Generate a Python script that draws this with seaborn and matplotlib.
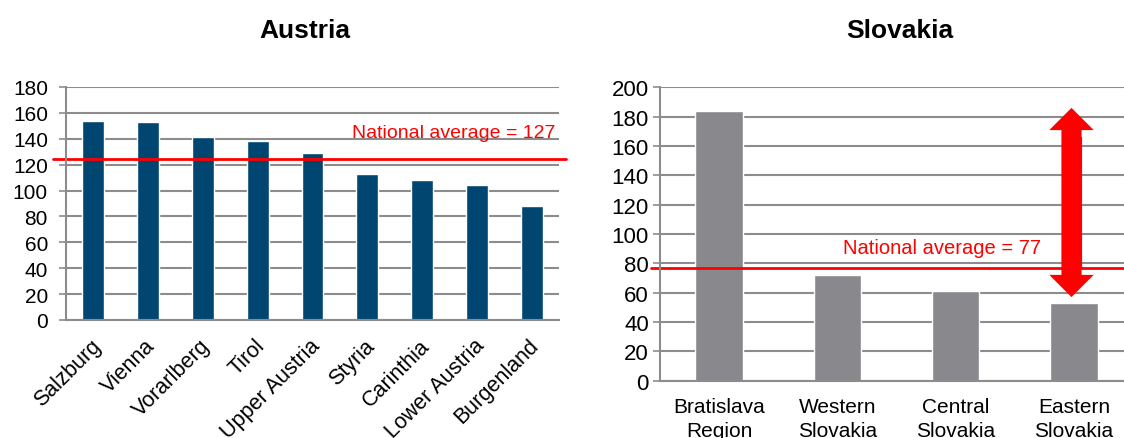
import matplotlib
matplotlib.use("Agg")
import matplotlib.pyplot as plt
import matplotlib.transforms as mtransforms
import seaborn as sns
import pandas as pd

# donnees
regions_at = ["Salzburg", "Vienna", "Vorarlberg", "Tirol", "Upper Austria",
              "Styria", "Carinthia", "Lower Austria", "Burgenland"]
valeurs_at = [154, 153, 141, 138, 129, 113, 108, 104, 88]
moyenne_at = 124
texte_at = "National average = 127"

regions_sk = ["Bratislava\nRegion", "Western\nSlovakia", "Central\nSlovakia", "Eastern\nSlovakia"]
valeurs_sk = [184, 72, 61, 53]
moyenne_sk = 77
texte_sk = "National average = 77"
fleche_sk = (186, 57)

sns.set_style("white")
plt.rcParams['font.family'] = ['Liberation Sans', 'DejaVu Sans']
plt.rcParams['text.color'] = 'black'

grille = "#8c8c8c"

fig = plt.figure(figsize=(11.24, 4.39), dpi=100)
ax1 = fig.add_axes([0.0587, 0.2688, 0.4386, 0.5308])
ax2 = fig.add_axes([0.5872, 0.1305, 0.4208, 0.6683])


def style_axe(ax, n, ymax, taille, ecart):
    ax.set_xlim(-0.5, n - 0.5)
    ax.set_ylim(0, ymax)
    ax.set_yticks(range(0, ymax + 1, 20))
    ax.yaxis.grid(True, color=grille, linewidth=1.5)
    ax.xaxis.grid(False)
    ax.set_axisbelow(True)
    for s in ["top", "right"]:
        ax.spines[s].set_visible(False)
    for s in ["left", "bottom"]:
        ax.spines[s].set_color(grille)
        ax.spines[s].set_linewidth(1.5)
    ax.set_xticks([i - 0.5 for i in range(n + 1)], minor=True)
    ax.tick_params(axis="x", which="minor", length=6, width=1.2, color=grille, direction="out")
    ax.tick_params(axis="x", which="major", length=0, labelsize=15, labelcolor="black")
    ax.tick_params(axis="y", length=5, width=1.2, color=grille, left=True,
                   labelsize=taille, labelcolor="black", pad=ecart)
    ax.set_xlabel("")
    ax.set_ylabel("")


# Autriche
df_at = pd.DataFrame({"region": regions_at, "valeur": valeurs_at})
sns.barplot(data=df_at, x="region", y="valeur", color="#004671", width=0.4,
            saturation=1, ax=ax1)
style_axe(ax1, len(regions_at), 180, 15, 8)
ax1.set_xticks(range(len(regions_at)))
ax1.set_xticklabels(regions_at, rotation=45, ha="right", va="center",
                    rotation_mode="anchor", fontsize=15.5)
ax1.tick_params(axis="x", which="major", pad=16)
decalage = mtransforms.ScaledTranslation(3 / 72, 0, fig.dpi_scale_trans)
for lab in ax1.get_xticklabels():
    lab.set_transform(lab.get_transform() + decalage)
ax1.plot([-0.74, 8.63], [moyenne_at, moyenne_at], color="red", lw=2, clip_on=False)
ax1.text(8.44, 141, texte_at, color="red", fontsize=14, ha="right", va="baseline")
ax1.set_title("Austria", fontsize=19, fontweight="bold", pad=36, x=0.485)

# Slovaquie
df_sk = pd.DataFrame({"region": regions_sk, "valeur": valeurs_sk})
sns.barplot(data=df_sk, x="region", y="valeur", color="#89888d", width=0.4,
            saturation=1, ax=ax2)
style_axe(ax2, len(regions_sk), 200, 16, 3)
ax2.set_xticks(range(len(regions_sk)))
ax2.set_xticklabels(regions_sk, linespacing=1.3)
ax2.tick_params(axis="x", which="major", pad=12)
ax2.plot([-0.58, 3.5], [moyenne_sk, moyenne_sk], color="red", lw=2, clip_on=False)
ax2.text(2.72, 87, texte_sk, color="red", fontsize=14.5, ha="right", va="baseline")
# fleche double : deux pointes + un trait plein entre les deux
milieu = (fleche_sk[0] + fleche_sk[1]) / 2
for bout in fleche_sk:
    ax2.annotate("", xy=(2.98, bout), xytext=(2.98, milieu),
                 arrowprops=dict(arrowstyle="simple,head_length=1.6,head_width=3.2,tail_width=1.45",
                                 mutation_scale=10, color="red", lw=0,
                                 shrinkA=0, shrinkB=0))
ax2.plot([2.98, 2.98], [fleche_sk[1] + 20, fleche_sk[0] - 20], color="red",
         lw=14.5, solid_capstyle="butt")
ax2.set_title("Slovakia", fontsize=19, fontweight="bold", pad=36, x=0.507)

plt.savefig("out.png", dpi=100)
